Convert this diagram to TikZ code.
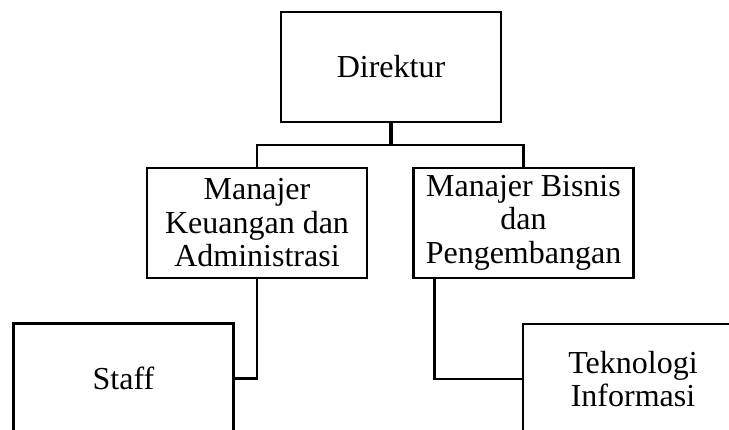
\documentclass[tikz,border=0pt]{standalone}
\usepackage{fontspec}
\setmainfont{Liberation Serif}
\usepackage{tikz}
\usetikzlibrary{positioning, calc}

\begin{document}
\begin{tikzpicture}[
  x=1pt, y=-1pt,
  box/.style={draw, line width=2.3pt, minimum width=220pt, minimum height=110pt, inner sep=0pt, align=center, font=\fontsize{32}{33.3}\selectfont},
  conn/.style={line width=2.3pt},
]
\useasboundingbox (0,0) rectangle (729,430);
\clip (0,0) rectangle (729,430);

% Top
\node[box] (dir) at (391,67) {Direktur};

% Managers
\node[box] (keu) at (257,222.7) {Manajer\\Keuangan dan\\Administrasi};
\node[box] (bis) at (523.5,222.7) {Manajer Bisnis\\dan\\Pengembangan};

% Staff level
\node[box] (staff) at (123.5,378.5) {Staff};
\node[box] (ti) at (633,379) {Teknologi\\Informasi};

% Connectors
\coordinate (bus) at ($(dir.south)!0.5!(keu.north)$);
\draw[conn, line width=3.5pt] (dir.south) -- (dir.south |- bus);
\draw[conn] (keu.north) |- (bus) -| (bis.north);
\draw[conn] (keu.south) |- (staff.east);
\draw[conn] ($(bis.south west)+(22,0)$) |- (ti.west);

\end{tikzpicture}
\end{document}
